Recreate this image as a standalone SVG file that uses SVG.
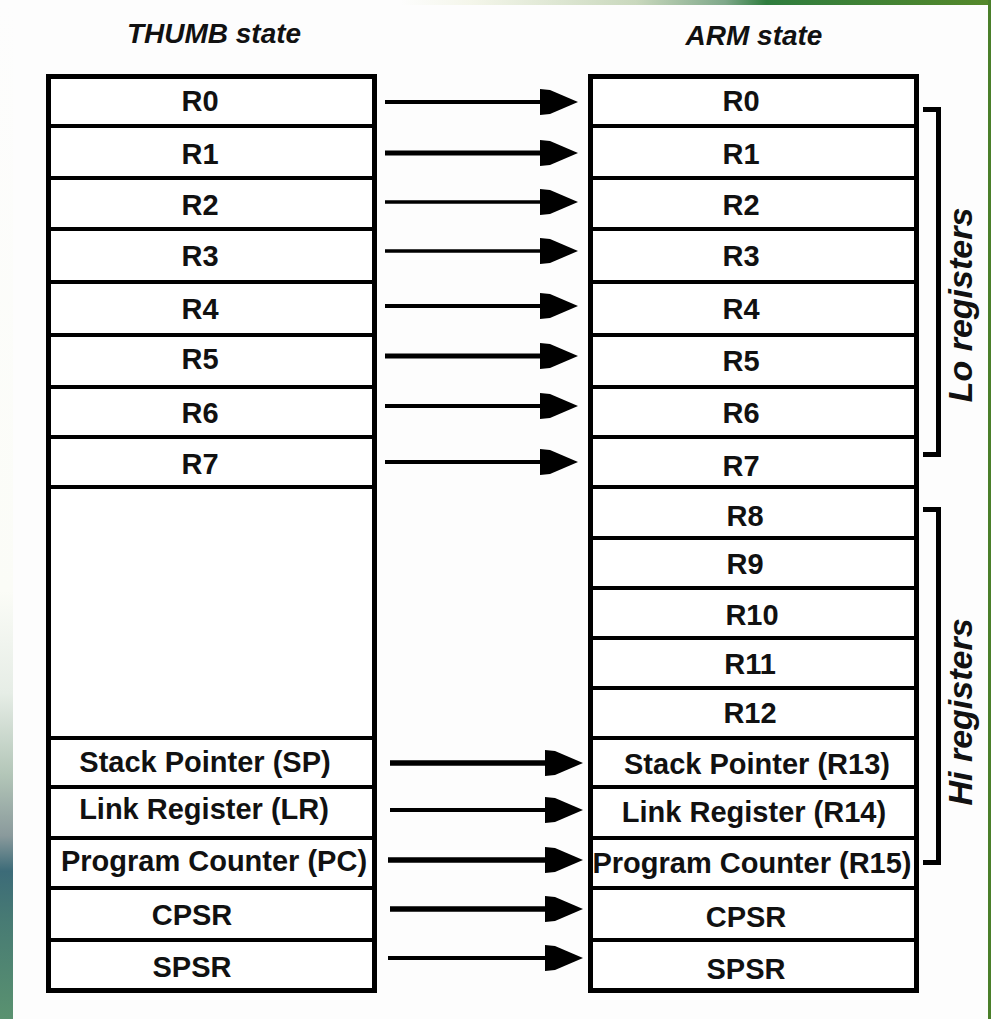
<svg xmlns="http://www.w3.org/2000/svg" width="991" height="1019" viewBox="0 0 991 1019">
<defs>
<linearGradient id="topg" x1="400" y1="0" x2="991" y2="0" gradientUnits="userSpaceOnUse">
<stop offset="0" stop-color="#fdfdfd"/>
<stop offset="0.12" stop-color="#f4f6ea"/>
<stop offset="0.4" stop-color="#c9d8bd"/>
<stop offset="0.55" stop-color="#7fa88a"/>
<stop offset="0.62" stop-color="#2f7d3f"/>
<stop offset="1" stop-color="#55882a"/>
</linearGradient>
<linearGradient id="leftg" x1="0" y1="0" x2="0" y2="1019" gradientUnits="userSpaceOnUse">
<stop offset="0" stop-color="#fdfdfd"/>
<stop offset="0.58" stop-color="#fbfcf7"/>
<stop offset="0.68" stop-color="#e6ede6"/>
<stop offset="0.76" stop-color="#b3c6b8"/>
<stop offset="0.82" stop-color="#8a9a9c"/>
<stop offset="0.855" stop-color="#3c6b78"/>
<stop offset="0.9" stop-color="#477a74"/>
<stop offset="1" stop-color="#5a9270"/>
</linearGradient>
<marker id="ah" viewBox="0 0 38 28" refX="18" refY="14" markerWidth="38" markerHeight="28" markerUnits="userSpaceOnUse" orient="auto">
<path d="M0,1 L10,2 L38,14 L10,26 L0,27 Z" fill="#000"/>
</marker>
<style>
.box{fill:#fff;stroke:#000;stroke-width:5}
.div{stroke:#000;stroke-width:4}
.t{font-family:"Liberation Sans",Arial,sans-serif;font-weight:bold;font-size:29px;fill:#111;text-anchor:middle}
.h{font-family:"Liberation Sans",Arial,sans-serif;font-weight:bold;font-style:italic;font-size:28px;fill:#111;text-anchor:middle}
.s{font-family:"Liberation Sans",Arial,sans-serif;font-weight:bold;font-style:italic;font-size:34px;fill:#111;text-anchor:middle}
.ar{stroke:#000;fill:none;marker-end:url(#ah)}
.br{stroke:#000;stroke-width:5;fill:none}
</style>
</defs>
<rect x="0" y="0" width="991" height="1019" fill="#fdfdfd"/>
<rect x="400" y="0" width="591" height="5" fill="url(#topg)"/>
<rect x="0" y="0" width="13" height="1019" fill="url(#leftg)"/>
<rect x="988" y="0" width="3" height="1019" fill="#4a7f2a"/>

<text class="h" x="214" y="43">THUMB state</text>
<text class="h" x="754" y="45">ARM state</text>

<g id="thumb">
<rect class="box" x="48.5" y="76.5" width="326" height="914"/>
<line class="div" x1="48" y1="126" x2="375" y2="126"/>
<line class="div" x1="48" y1="178" x2="375" y2="178"/>
<line class="div" x1="48" y1="229" x2="375" y2="229"/>
<line class="div" x1="48" y1="282" x2="375" y2="282"/>
<line class="div" x1="48" y1="335" x2="375" y2="335"/>
<line class="div" x1="48" y1="387" x2="375" y2="387"/>
<line class="div" x1="48" y1="437" x2="375" y2="437" stroke-width="6"/>
<line class="div" x1="48" y1="487" x2="375" y2="487"/>
<line class="div" x1="48" y1="738" x2="375" y2="738"/>
<line class="div" x1="48" y1="787" x2="375" y2="787" stroke-width="5"/>
<line class="div" x1="48" y1="838" x2="375" y2="838" stroke-width="5"/>
<line class="div" x1="48" y1="888" x2="375" y2="888" stroke-width="3"/>
<line class="div" x1="48" y1="940" x2="375" y2="940"/>
<text class="t" x="200" y="110.5">R0</text>
<text class="t" x="200" y="163.5">R1</text>
<text class="t" x="200" y="214.5">R2</text>
<text class="t" x="200" y="265.5">R3</text>
<text class="t" x="200" y="318.5">R4</text>
<text class="t" x="200" y="368.5">R5</text>
<text class="t" x="200" y="422.5">R6</text>
<text class="t" x="200" y="473.5">R7</text>
<text class="t" x="205" y="771.5">Stack Pointer (SP)</text>
<text class="t" x="204" y="818.5">Link Register (LR)</text>
<text class="t" x="214" y="870.5">Program Counter (PC)</text>
<text class="t" x="192" y="924.5">CPSR</text>
<text class="t" x="192" y="976.5">SPSR</text>
</g>

<g id="arm">
<rect class="box" x="590.5" y="76.5" width="326" height="914"/>
<line class="div" x1="590" y1="126" x2="917" y2="126"/>
<line class="div" x1="590" y1="178" x2="917" y2="178"/>
<line class="div" x1="590" y1="229" x2="917" y2="229"/>
<line class="div" x1="590" y1="282" x2="917" y2="282"/>
<line class="div" x1="590" y1="335" x2="917" y2="335"/>
<line class="div" x1="590" y1="387" x2="917" y2="387"/>
<line class="div" x1="590" y1="437" x2="917" y2="437" stroke-width="6"/>
<line class="div" x1="590" y1="487" x2="917" y2="487"/>
<line class="div" x1="590" y1="538" x2="917" y2="538"/>
<line class="div" x1="590" y1="588" x2="917" y2="588" stroke-width="5"/>
<line class="div" x1="590" y1="638" x2="917" y2="638" stroke-width="5"/>
<line class="div" x1="590" y1="688" x2="917" y2="688"/>
<line class="div" x1="590" y1="738" x2="917" y2="738" stroke-width="5"/>
<line class="div" x1="590" y1="787" x2="917" y2="787" stroke-width="5"/>
<line class="div" x1="590" y1="838" x2="917" y2="838" stroke-width="5"/>
<line class="div" x1="590" y1="888" x2="917" y2="888" stroke-width="3"/>
<line class="div" x1="590" y1="940" x2="917" y2="940"/>
<text class="t" x="741" y="110.5">R0</text>
<text class="t" x="741" y="163.5">R1</text>
<text class="t" x="741" y="214.5">R2</text>
<text class="t" x="741" y="265.5">R3</text>
<text class="t" x="741" y="318.5">R4</text>
<text class="t" x="741" y="370.5">R5</text>
<text class="t" x="741" y="422.5">R6</text>
<text class="t" x="741" y="475.5">R7</text>
<text class="t" x="745" y="525.5">R8</text>
<text class="t" x="745" y="573.5">R9</text>
<text class="t" x="752" y="624.5">R10</text>
<text class="t" x="750" y="673.5">R11</text>
<text class="t" x="750" y="722.5">R12</text>
<text class="t" x="757" y="773.5">Stack Pointer (R13)</text>
<text class="t" x="754" y="821.5">Link Register (R14)</text>
<text class="t" x="752" y="872.5">Program Counter (R15)</text>
<text class="t" x="746" y="926.5">CPSR</text>
<text class="t" x="746" y="978.5">SPSR</text>
</g>

<g id="lo-registers">
<path class="br" d="M923,109.5 H938.5 V454.5 H923"/>
<text class="s" transform="translate(972,305) rotate(-90)">Lo registers</text>
</g>
<g id="hi-registers">
<path class="br" d="M923,509.5 H938.5 V862.5 H923"/>
<text class="s" transform="translate(972,712) rotate(-90)">Hi registers</text>
</g>

<g id="connectors">
<line class="ar" x1="385" y1="102" x2="558" y2="102" stroke-width="4"/>
<line class="ar" x1="385" y1="153" x2="558" y2="153" stroke-width="5"/>
<line class="ar" x1="385" y1="202" x2="558" y2="202" stroke-width="3.5"/>
<line class="ar" x1="385" y1="251" x2="558" y2="251" stroke-width="3.5"/>
<line class="ar" x1="385" y1="306" x2="558" y2="306" stroke-width="4"/>
<line class="ar" x1="385" y1="356" x2="558" y2="356" stroke-width="5"/>
<line class="ar" x1="385" y1="406" x2="558" y2="406" stroke-width="4"/>
<line class="ar" x1="385" y1="462" x2="558" y2="462" stroke-width="4"/>
<line class="ar" x1="390" y1="763" x2="563" y2="763" stroke-width="5.5"/>
<line class="ar" x1="390" y1="810" x2="563" y2="810" stroke-width="4"/>
<line class="ar" x1="388" y1="860" x2="563" y2="860" stroke-width="5.5"/>
<line class="ar" x1="390" y1="909" x2="563" y2="909" stroke-width="5.5"/>
<line class="ar" x1="388" y1="958" x2="563" y2="958" stroke-width="4"/>
</g>
</svg>
